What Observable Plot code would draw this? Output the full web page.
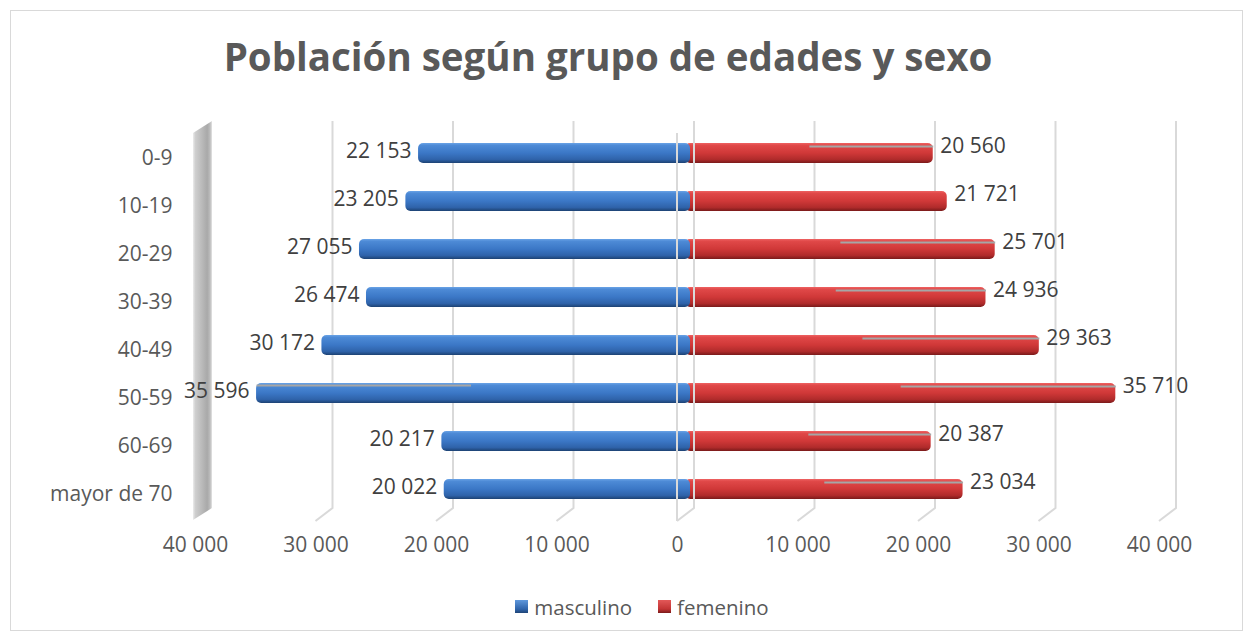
<!DOCTYPE html>
<html>
<head>
<meta charset="utf-8">
<script src="https://cdn.jsdelivr.net/npm/d3@7"></script>
<script src="https://cdn.jsdelivr.net/npm/@observablehq/plot@0.6"></script>
<style>
  html, body { margin: 0; padding: 0; background: #fff; }
  #wrap { position: relative; width: 1254px; height: 640px; overflow: hidden; font-family: "Open Sans", sans-serif; }
  #border { position: absolute; left: 10px; top: 10px; width: 1233px; height: 621px; border: 1px solid #d9d9d9; box-sizing: border-box; }
  #title { position: absolute; left: -19px; top: 33px; width: 1254px; text-align: center; font-weight: bold; font-size: 38.5px; color: #595959; line-height: 1.2; }
  #chart { position: absolute; left: 0; top: 0; }
  #legend { position: absolute; left: 30px; top: 591px; width: 1224px; text-align: center; font-size: 20.5px; color: #595959; }
  #legend span.item { display: inline-flex; align-items: center; margin: 0 13px; }
  #legend span.sw { display: inline-block; width: 13px; height: 13px; margin-right: 6px; }
</style>
</head>
<body>
<div id="wrap">
  <div id="border"></div>
  <div id="title">Población según grupo de edades y sexo</div>
  <div id="chart"></div>
  <div id="legend"></div>
</div>
<script>
// ---- data ----
const ages = ["0-9", "10-19", "20-29", "30-39", "40-49", "50-59", "60-69", "mayor de 70"];
const masculino = [22153, 23205, 27055, 26474, 30172, 35596, 20217, 20022];
const femenino  = [20560, 21721, 25701, 24936, 29363, 35710, 20387, 23034];
const leaderMasculino = [false, false, false, false, false, true, false, false];
const leaderFemenino  = [true, false, true, true, true, true, true, true];
const xTicks = [-40000, -30000, -20000, -10000, 0, 10000, 20000, 30000, 40000];
const seriesNames = ["masculino", "femenino"];

const rows = ages.map((a, i) => ({age: a, m: masculino[i], f: femenino[i], lm: leaderMasculino[i], lf: leaderFemenino[i]}));
const fmt = v => d3.format(",")(Math.abs(v)).replace(/,/g, " ");

// depth offsets of the pseudo-3D frame
const DX = 17, DY = 13, BAR_DX = 8;

function defsMark() {
  const defs = d3.create("svg:defs");
  const grad = (id, stops, horizontal) => {
    const g = defs.append("linearGradient").attr("id", id)
      .attr("x1", 0).attr("y1", 0).attr("x2", horizontal ? 1 : 0).attr("y2", horizontal ? 0 : 1);
    stops.forEach(([o, c]) => g.append("stop").attr("offset", o).attr("stop-color", c));
  };
  grad("gBlue", [[0, "#6aa3e6"], [0.12, "#4d8ad6"], [0.5, "#3b77c6"], [0.82, "#2f63aa"], [1, "#1d4273"]]);
  grad("gRed", [[0, "#ee6262"], [0.12, "#e04848"], [0.5, "#d03838"], [0.82, "#b02b2b"], [1, "#7a1a1a"]]);
  grad("gWall", [[0, "#ececec"], [0.12, "#cfcfcf"], [0.75, "#a9a9a9"], [0.9, "#bdbdbd"], [1, "#e4e4e4"]], true);
  return defs.node();
}

function wallAndGrid(index, scales, values, dim) {
  const x = scales.x;
  const top = dim.marginTop - 7;
  const backBottom = dim.height - dim.marginBottom - 6;
  const frontBottom = backBottom + DY;
  const g = d3.create("svg:g");
  const x0 = x(xTicks[0]);
  g.append("polygon")
    .attr("points", `${x0 - 2},${top + 12} ${x0 + DX},${top} ${x0 + DX},${backBottom} ${x0 - 2},${frontBottom - 1}`)
    .attr("fill", "url(#gWall)");
  g.append("g").attr("fill", "none").attr("stroke", "#d9d9d9").attr("stroke-width", 2)
    .selectAll("path").data(xTicks.slice(1).filter(t => t !== 0)).join("path")
    .attr("d", t => `M${x(t) + DX},${top}V${backBottom}L${x(t)},${frontBottom}`);
  return g.node();
}

function zeroLines(index, scales, values, dim) {
  const x = scales.x;
  const top = dim.marginTop - 7;
  const backBottom = dim.height - dim.marginBottom - 6;
  const frontBottom = backBottom + DY;
  const g = d3.create("svg:g").attr("fill", "none").attr("stroke", "#d9d9d9").attr("stroke-width", 2);
  g.append("path").attr("d", `M${x(0) + DX},${top}V${backBottom}L${x(0)},${frontBottom}`);
  g.append("path").attr("d", `M${x(0)},${top + 12}V${frontBottom}`);
  return g.node();
}

const chart = Plot.plot({
  width: 1254,
  height: 580,
  marginLeft: 195,
  marginRight: 95,
  marginTop: 128,
  marginBottom: 66,
  style: {fontFamily: "Open Sans, sans-serif", fontSize: "21px", color: "#595959", background: "transparent"},
  x: {domain: [xTicks[0], xTicks[xTicks.length - 1]], axis: null},
  y: {domain: ages, axis: null, paddingInner: 0.585, paddingOuter: 0.2925},
  marks: [
    defsMark,
    wallAndGrid,
    Plot.barX(rows, {y: "age", x1: 0, x2: d => d.f, dx: BAR_DX, rx: 5, fill: "url(#gRed)"}),
    Plot.barX(rows, {y: "age", x1: 0, x2: d => -d.m, dx: BAR_DX, rx: 5, insetRight: -5, fill: "url(#gBlue)"}),
    zeroLines,
    Plot.link(rows.filter(d => d.lm), {x1: d => -d.m / 2, x2: d => -d.m, y1: "age", y2: "age", dx: BAR_DX, dy: -8, stroke: "#a6a6a6", strokeWidth: 2}),
    Plot.link(rows.filter(d => d.lf), {x1: d => d.f / 2, x2: d => d.f, y1: "age", y2: "age", dx: BAR_DX, dy: -7, stroke: "#a6a6a6", strokeWidth: 2}),
    Plot.text(rows, {y: "age", x: d => -d.m, text: d => fmt(d.m), textAnchor: "end", dx: 1, dy: -2, fill: "#404040"}),
    Plot.text(rows, {y: "age", x: d => d.f, text: d => fmt(d.f), textAnchor: "start", dx: 15, dy: -7, fill: "#404040"}),
    Plot.text(ages, {y: d => d, text: d => d, frameAnchor: "left", textAnchor: "end", dx: -23, dy: 5, fill: "#595959"}),
    Plot.text(xTicks, {x: d => d, text: d => fmt(d), frameAnchor: "bottom", dy: 37, fill: "#595959"})
  ]
});
document.getElementById("chart").appendChild(chart);

// legend
const legendFills = ["linear-gradient(#5f98dc, #2f64ab 70%, #1f4577)", "linear-gradient(#e25858, #c23434 70%, #7a1a1a)"];
const legend = d3.select("#legend");
seriesNames.forEach((n, i) => {
  const item = legend.append("span").attr("class", "item");
  item.append("span").attr("class", "sw").style("background", legendFills[i]);
  item.append("span").text(n);
});
</script>
</body>
</html>
